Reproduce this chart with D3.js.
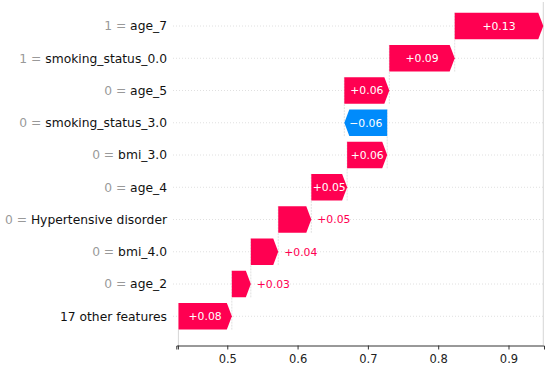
<!DOCTYPE html>
<html>
<head>
<meta charset="utf-8">
<script src="https://cdn.jsdelivr.net/npm/d3@7"></script>
<style>
  body { margin: 0; background: #fff; }
  text { font-family: "DejaVu Sans", sans-serif; }
</style>
</head>
<body>
<script>
// rows from top to bottom
const features = ["age_7", "smoking_status_0.0", "age_5", "smoking_status_3.0", "bmi_3.0",
  "age_4", "Hypertensive disorder", "bmi_4.0", "age_2", "17 other features"];
const featureValues = ["1", "1", "0", "0", "0", "0", "0", "0", "0", ""];
const shapValues = [0.126, 0.093, 0.064, -0.061, 0.057, 0.051, 0.047, 0.039, 0.027, 0.076];
const baseValue = 0.4305;
const tickValues = [0.5, 0.6, 0.7, 0.8, 0.9];

const width = 550, height = 368;
const red = "#ff0051", blue = "#008bfb";

const svg = d3.select("body")
  .append("svg")
  .attr("width", width)
  .attr("height", height);

const x = d3.scaleLinear()
  .domain([0.4275, 0.9505])
  .range([176.3, 544]);

const rowStep = 32.25;
const y = i => 26 + i * rowStep;
const barH = 26.7;
const head = 5;

// cumulative starts, built from the bottom row up
const n = features.length;
const bars = [];
let cur = baseValue;
for (let i = n - 1; i >= 0; i--) {
  bars[i] = { name: features[i], fv: featureValues[i], v: shapValues[i], start: cur, end: cur + shapValues[i], i };
  cur += shapValues[i];
}
const fx = cur;

// dotted row lines
svg.append("g").selectAll("line")
  .data(bars)
  .enter()
  .append("line")
  .attr("x1", 173).attr("x2", x(fx))
  .attr("y1", d => y(d.i)).attr("y2", d => y(d.i))
  .attr("stroke", "#d8d8d8")
  .attr("stroke-width", 0.8)
  .attr("stroke-dasharray", "1,2");

// connector lines between consecutive bars
svg.append("g").selectAll("line")
  .data(bars.slice(0, n - 1))
  .enter()
  .append("line")
  .attr("x1", d => x(d.start)).attr("x2", d => x(d.start))
  .attr("y1", d => y(d.i) - barH / 2).attr("y2", d => y(d.i + 1) + barH / 2)
  .attr("stroke", "#cccccc")
  .attr("stroke-width", 0.6)
  .attr("stroke-dasharray", "2,1");

// f(x) and E[f(X)] lines
svg.append("line")
  .attr("x1", x(fx)).attr("x2", x(fx))
  .attr("y1", 2).attr("y2", 345)
  .attr("stroke", "#cccccc").attr("stroke-width", 0.8);
svg.append("line")
  .attr("x1", x(baseValue)).attr("x2", x(baseValue))
  .attr("y1", y(n - 1) + barH / 2).attr("y2", 345)
  .attr("stroke", "#cccccc").attr("stroke-width", 0.8);

// arrows
function arrowPath(d) {
  const x0 = x(d.start), x1 = x(d.end);
  const top = y(d.i) - barH / 2, bot = y(d.i) + barH / 2, mid = y(d.i);
  const dir = d.v >= 0 ? 1 : -1;
  const h = Math.min(head, Math.abs(x1 - x0));
  return `M${x0},${top}L${x1 - dir * h},${top}L${x1},${mid}L${x1 - dir * h},${bot}L${x0},${bot}Z`;
}

const fmt = d3.format("+.2f");

const g = svg.append("g").selectAll("g")
  .data(bars)
  .enter()
  .append("g");

g.append("path")
  .attr("d", arrowPath)
  .attr("fill", d => d.v >= 0 ? red : blue);

g.append("text")
  .attr("y", d => y(d.i))
  .attr("dy", "0.36em")
  .attr("font-size", "10.8px")
  .text(d => fmt(d.v))
  .each(function(d) {
    const t = d3.select(this);
    const tw = this.getComputedTextLength();
    const bw = Math.abs(x(d.end) - x(d.start));
    if (bw - tw > 2.5) {
      t.attr("x", (x(d.start) + x(d.end)) / 2)
        .attr("text-anchor", "middle")
        .attr("fill", "#fff");
    } else {
      const dir = d.v >= 0 ? 1 : -1;
      t.attr("x", x(d.end) + dir * 6)
        .attr("text-anchor", dir > 0 ? "start" : "end")
        .attr("fill", d.v >= 0 ? red : blue);
    }
  });

// feature labels
const labels = svg.append("g").selectAll("text")
  .data(bars)
  .enter()
  .append("text")
  .attr("x", 167)
  .attr("y", d => y(d.i))
  .attr("dy", "0.36em")
  .attr("text-anchor", "end")
  .attr("font-size", "12.3px");

labels.filter(d => d.fv !== "")
  .append("tspan")
  .attr("fill", "#999")
  .text(d => d.fv + " = ");
labels.append("tspan")
  .attr("fill", "#111")
  .text(d => d.name);

// x axis
const axis = svg.append("g")
  .attr("transform", "translate(0,345.5)")
  .call(d3.axisBottom(x).tickValues(tickValues).tickFormat(d3.format(".1f")).tickSizeOuter(0).tickSize(4));
axis.select(".domain").attr("stroke", "#333");
axis.selectAll(".tick line").attr("stroke", "#333");
axis.selectAll(".tick text")
  .attr("font-family", "DejaVu Sans, sans-serif")
  .attr("font-size", "11.5px")
  .attr("fill", "#222")
  .attr("dy", "0.9em");
axis.append("line")
  .attr("x1", x(baseValue)).attr("x2", x(baseValue))
  .attr("y1", 0).attr("y2", 4)
  .attr("stroke", "#333");
</script>
</body>
</html>
